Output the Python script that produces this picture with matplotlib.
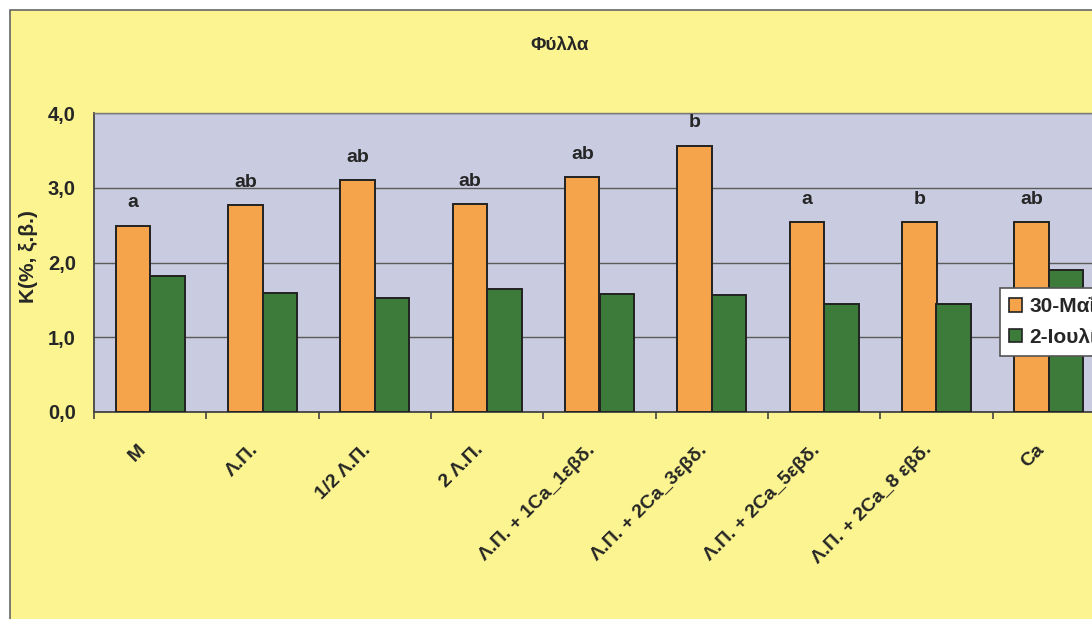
import matplotlib
matplotlib.use("Agg")
import matplotlib.pyplot as plt
import matplotlib.transforms as mtransforms
from matplotlib.patches import Patch, Rectangle
import numpy as np

plt.rcParams['font.family'] = ['Liberation Sans', 'DejaVu Sans']
plt.rcParams['font.weight'] = 'bold'

categories = ["M", "Λ.Π.", "1/2 Λ.Π.", "2 Λ.Π.", "Λ.Π. + 1Ca_1εβδ.",
              "Λ.Π. + 2Ca_3εβδ.", "Λ.Π. + 2Ca_5εβδ.", "Λ.Π. + 2Ca_8 εβδ.", "Ca"]
may30 = [2.49, 2.77, 3.10, 2.78, 3.14, 3.56, 2.54, 2.54, 2.54]
jul2 = [1.82, 1.59, 1.53, 1.65, 1.58, 1.57, 1.44, 1.44, 1.90]
letters = ["a", "ab", "ab", "ab", "ab", "b", "a", "b", "ab"]
series_names = ["30-Μαΐου", "2-Ιουλίου"]
yticks = [0, 1, 2, 3, 4]

yellow = "#FBF490"
plot_bg = "#C9CCE0"
orange = "#F6A44C"
green = "#3D7B3A"
ink = "#262626"

fig = plt.figure(figsize=(10.92, 6.19), dpi=100)
fig.patch.set_facecolor("white")

# chart area with border (runs past right and bottom edges)
frame = Rectangle((10 / 1092, -0.1), 1.2, 1.1 - 10 / 619,
                  transform=fig.transFigure, facecolor=yellow,
                  edgecolor="#666666", linewidth=1.2, zorder=-10)
fig.add_artist(frame)

ax = fig.add_axes([94 / 1092, 207 / 619, 1011 / 1092, 299 / 619])
ax.set_facecolor(plot_bg)

x = np.arange(len(categories))
w = 0.307
ax.bar(x - w / 2, may30, w, color=orange, edgecolor="#222222", linewidth=1.4, zorder=3)
ax.bar(x + w / 2, jul2, w, color=green, edgecolor="#222222", linewidth=1.4, zorder=3)

for xi, v, t in zip(x, may30, letters):
    ax.annotate(t, (xi - w / 2, v), xytext=(0, 16.5), textcoords="offset points",
                ha="center", va="center", fontsize=14, fontweight="bold",
                color=ink, zorder=4)

ax.set_xlim(-0.5, len(categories) - 0.5)
ax.set_ylim(0, 4)
ax.set_yticks(yticks)
ax.set_yticklabels([f"{t:.1f}".replace(".", ",") for t in yticks],
                   fontsize=14.5, fontweight="bold", color=ink)
ax.tick_params(axis="y", length=0, pad=13)
ax.yaxis.grid(True, color="#5a5a5a", linewidth=1.0, zorder=1)
ax.set_axisbelow(True)

ax.set_xticks(x)
ax.set_xticklabels(categories, rotation=45, ha="right", va="top",
                   rotation_mode="anchor", fontsize=14, fontweight="bold",
                   color=ink)
ax.set_xticks(np.arange(len(categories) + 1) - 0.5, minor=True)
ax.tick_params(axis="x", which="major", length=0, pad=21)
ax.tick_params(axis="x", which="minor", length=5, width=1.2, color="#444444")
shift = mtransforms.ScaledTranslation(-13 / 100, 0, fig.dpi_scale_trans)
for lab in ax.get_xticklabels():
    lab.set_transform(lab.get_transform() + shift)

for s in ["left", "bottom"]:
    ax.spines[s].set_color("#444444")
    ax.spines[s].set_linewidth(1.3)
ax.spines["top"].set_color("#777777")
ax.spines["top"].set_linewidth(1.0)
ax.spines["right"].set_visible(False)

ax.set_ylabel("K(%, ξ.β.)", fontsize=15, fontweight="bold", color=ink)
ax.yaxis.set_label_coords(-56 / 1011, 0.52)

fig.text(560 / 1092, 1 - 45 / 619, "Φύλλα", ha="center", va="center",
         fontsize=13.5, fontweight="bold", color=ink)

handles = [Patch(facecolor=orange, edgecolor="#222222", linewidth=1.2),
           Patch(facecolor=green, edgecolor="#222222", linewidth=1.2)]
leg = ax.legend(handles, series_names, loc="upper left",
                bbox_to_anchor=(1000 / 1092, 1 - 288 / 619),
                bbox_transform=fig.transFigure, fontsize=15, frameon=True,
                fancybox=False, edgecolor="#555555", framealpha=1,
                handlelength=0.6, handleheight=0.6, handletextpad=0.35,
                labelspacing=0.55, borderpad=0.45, borderaxespad=0)
leg.get_frame().set_linewidth(1.2)
leg.set_zorder(10)
for t in leg.get_texts():
    t.set_fontweight("bold")
    t.set_color(ink)

fig.savefig("out.png", dpi=100)
